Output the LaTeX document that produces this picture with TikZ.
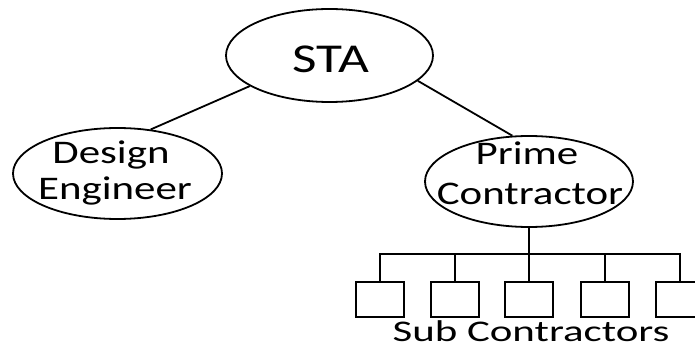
\documentclass[tikz,border=0pt]{standalone}
\usepackage{fontspec}
\setmainfont{Carlito}[FakeStretch=1.3]
\newfontfamily\subfont{Carlito}[FakeStretch=1.43]
\usetikzlibrary{shapes.geometric}
\tikzset{
  oval/.style={ellipse, draw, line width=1.8pt, inner sep=0pt},
  subbox/.style={rectangle, draw, line width=1.8pt, minimum width=48pt, minimum height=35pt, inner sep=0pt},
  link/.style={line width=1.8pt},
  lbl/.style={font=\fontsize{33}{37}\selectfont, inner sep=0pt, anchor=base}
}
\begin{document}
\begin{tikzpicture}[x=1pt,y=-1pt]
\clip (0,0) rectangle (695,347);
\fill[white] (0,0) rectangle (695,347);
\node[oval, minimum width=207pt, minimum height=93pt] (STA) at (329.5,55.5) {};
\node[oval, minimum width=209pt, minimum height=91pt] (DE) at (117.5,173.5) {};
\node[oval, minimum width=208pt, minimum height=91pt] (PC) at (529,181.5) {};
\node[lbl, font=\fontsize{41}{44}\selectfont] (STAt) at (331,72.3) {STA};
\node[lbl] (DE1) at (111,163.5) {Design};
\node[lbl] (DE2) at (115,199.5) {Engineer};
\node[lbl] (PC1) at (527,165) {Prime};
\node[lbl] (PC2) at (530,204.5) {Contractor};
\draw[link] (STA.201) -- (DE.53);
\draw[link] (STA.344) -- (PC.110);
\coordinate (bar) at (529,254);
\node[subbox] (b1) at (380.2,299.2) {};
\node[subbox] (b2) at (455.2,299.2) {};
\node[subbox] (b3) at (529.2,299.2) {};
\node[subbox] (b4) at (605.2,299.2) {};
\node[subbox] (b5) at (680.2,299.2) {};
\draw[link] (PC.south) -- (PC.south |- bar);
\draw[link, line cap=rect] (b1.north |- bar) -- (b5.north |- bar);
\foreach \i in {1,...,5} \draw[link] (b\i.north) -- (b\i.north |- bar);
\node[lbl, text depth=0pt, font=\subfont\fontsize{30}{34}\selectfont] (sub) at (531,341.5) {Sub Contractors};
\end{tikzpicture}
\end{document}
